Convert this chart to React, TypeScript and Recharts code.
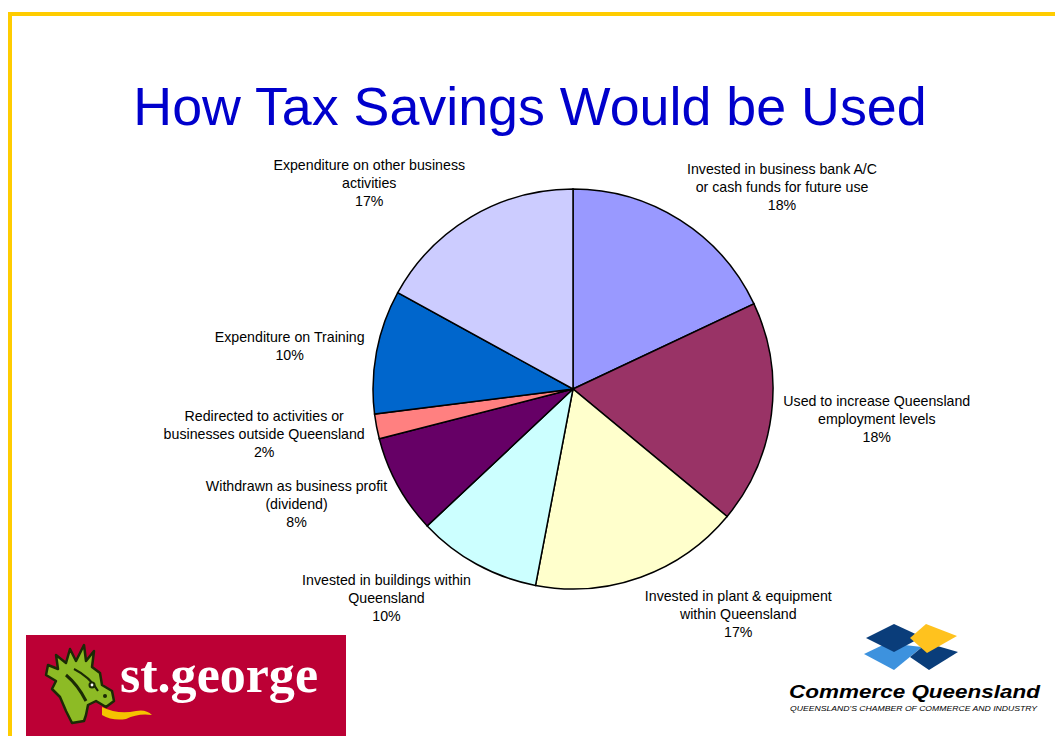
import { PieChart, Pie, Cell } from "recharts";

const categories: string[][] = [
  ["Invested in business bank A/C", "or cash funds for future use"],
  ["Used to increase Queensland", "employment levels"],
  ["Invested in plant & equipment", "within Queensland"],
  ["Invested in buildings within", "Queensland"],
  ["Withdrawn as business profit", "(dividend)"],
  ["Redirected to activities or", "businesses outside Queensland"],
  ["Expenditure on Training"],
  ["Expenditure on other business", "activities"],
];
const shares = [18, 18, 17, 10, 8, 2, 10, 17];
const colors = [
  "#9999FF",
  "#993366",
  "#FFFFCC",
  "#CCFFFF",
  "#660066",
  "#FF8080",
  "#0066CC",
  "#CCCCFF",
];

const data = categories.map((lines, i) => ({
  name: lines.join(" "),
  lines,
  value: shares[i],
}));

const FONT = '"Liberation Sans", Arial, sans-serif';
const LABEL_SIZE = 14.2;
const LINE_H = 18;
const RADIAN = Math.PI / 180;

let ctx: CanvasRenderingContext2D | null = null;
function textWidth(s: string): number {
  if (!ctx) ctx = document.createElement("canvas").getContext("2d");
  if (!ctx) return s.length * 7;
  ctx.font = `${LABEL_SIZE}px "Liberation Sans"`;
  return ctx.measureText(s).width;
}

function renderLabel(props: any) {
  const { cx, cy, midAngle, outerRadius, payload, value } = props;
  const lines: string[] = [...payload.lines, `${value}%`];
  const r = outerRadius + 12;
  const cos = Math.cos(-midAngle * RADIAN);
  const sin = Math.sin(-midAngle * RADIAN);
  const ax = cx + r * cos;
  const ay = cy + r * sin;
  const boxW = Math.max(...lines.map(textWidth));
  const boxH = lines.length * LINE_H;
  const centerX = cos >= 0 ? ax + boxW / 2 : ax - boxW / 2;
  // sin is in screen coords here (positive = downward)
  const centerY = ay + (sin * boxH) / 2;
  const top = centerY - boxH / 2;
  return (
    <g>
      {lines.map((l, i) => (
        <text
          key={i}
          x={centerX}
          y={top + LINE_H / 2 + i * LINE_H}
          textAnchor="middle"
          dominantBaseline="central"
          fill="#000"
          fontSize={LABEL_SIZE}
          fontFamily={FONT}
        >
          {l}
        </text>
      ))}
    </g>
  );
}

function StGeorgeLogo() {
  return (
    <svg
      width={320}
      height={101}
      style={{ position: "absolute", left: 26, top: 635 }}
    >
      <rect x={0} y={0} width={320} height={101} fill="#BC0035" />
      {/* dragon head */}
      <path
        d="M22 30 L32 34 L30 20 L40 28 L44 14 L50 26 L58 10 L60 26 L68 16 L66 32 L74 38 L76 50 L86 56 L88 66 L80 72 L70 66 L62 70 L60 80 L58 86 L46 88 L40 76 L34 62 L26 54 L30 46 L20 40 Z"
        fill="#8DBB25"
        stroke="#1B2A05"
        strokeWidth={2.5}
        strokeLinejoin="round"
      />
      <path d="M40 40 Q52 50 60 66" stroke="#1B2A05" strokeWidth={3} fill="none" />
      <path d="M48 34 Q64 42 72 56" stroke="#1B2A05" strokeWidth={2} fill="none" />
      <circle cx={66} cy={50} r={3.5} fill="#1B2A05" />
      <circle cx={66} cy={50} r={1.4} fill="#fff" />
      <circle cx={79} cy={61} r={2} fill="#1B2A05" />
      <path
        d="M76 72 Q92 80 110 76 Q120 74 126 80 Q112 78 100 84 Q86 86 76 80 Z"
        fill="#F5C400"
      />
      <text
        x={94}
        y={57}
        fill="#fff"
        fontSize={52}
        fontWeight="bold"
        fontFamily='"Liberation Serif", "DejaVu Serif", serif'
        textLength={198}
        lengthAdjust="spacingAndGlyphs"
      >
        st.george
      </text>
    </svg>
  );
}

function CommerceLogo() {
  return (
    <svg
      width={270}
      height={100}
      style={{ position: "absolute", left: 780, top: 620 }}
    >
      <g transform="translate(-780,-620)">
        <polygon points="864,654 887,643 922,647 894,670" fill="#3D92DE" />
        <polygon points="910,657 927,643 958,652 929,670" fill="#0A3D7A" />
        <polygon points="866,638 894,624 922,637 894,652" fill="#0A3D7A" />
        <polygon points="910,638 926,624 957,636 927,653" fill="#FFC21E" />
        <text
          x={789}
          y={698}
          fill="#000"
          fontSize={19}
          fontWeight="900"
          fontStyle="italic"
          fontFamily={FONT}
          textLength={251}
          lengthAdjust="spacingAndGlyphs"
        >
          Commerce Queensland
        </text>
        <text
          x={790}
          y={711}
          fill="#000"
          fontSize={7}
          fontStyle="italic"
          fontFamily={FONT}
          textLength={247}
          lengthAdjust="spacingAndGlyphs"
        >
          QUEENSLAND'S CHAMBER OF COMMERCE AND INDUSTRY
        </text>
      </g>
    </svg>
  );
}

export default function App() {
  return (
    <div
      style={{
        position: "absolute",
        left: 0,
        top: 0,
        width: 1055,
        height: 736,
        background: "#fff",
        overflow: "hidden",
      }}
    >
      <svg
        width={1055}
        height={736}
        style={{ position: "absolute", left: 0, top: 0 }}
      >
        <rect x={8} y={12} width={1060} height={4} fill="#FFCC00" />
        <rect x={8} y={12} width={4} height={730} fill="#FFCC00" />
        <text
          x={530}
          y={125}
          textAnchor="middle"
          fill="#0000CC"
          fontSize={53.8}
          fontFamily={FONT}
        >
          How Tax Savings Would be Used
        </text>
      </svg>
      <div style={{ position: "absolute", left: 0, top: 0 }}>
        <PieChart
          width={1055}
          height={736}
          margin={{ top: 0, right: 0, bottom: 0, left: 0 }}
        >
          <Pie
            data={data}
            dataKey="value"
            nameKey="name"
            cx={573}
            cy={389}
            outerRadius={200}
            startAngle={90}
            endAngle={-270}
            stroke="#000"
            strokeWidth={1.5}
            label={renderLabel}
            labelLine={false}
            isAnimationActive={false}
          >
            {data.map((d, i) => (
              <Cell key={d.name} fill={colors[i]} />
            ))}
          </Pie>
        </PieChart>
      </div>
      <StGeorgeLogo />
      <CommerceLogo />
    </div>
  );
}
